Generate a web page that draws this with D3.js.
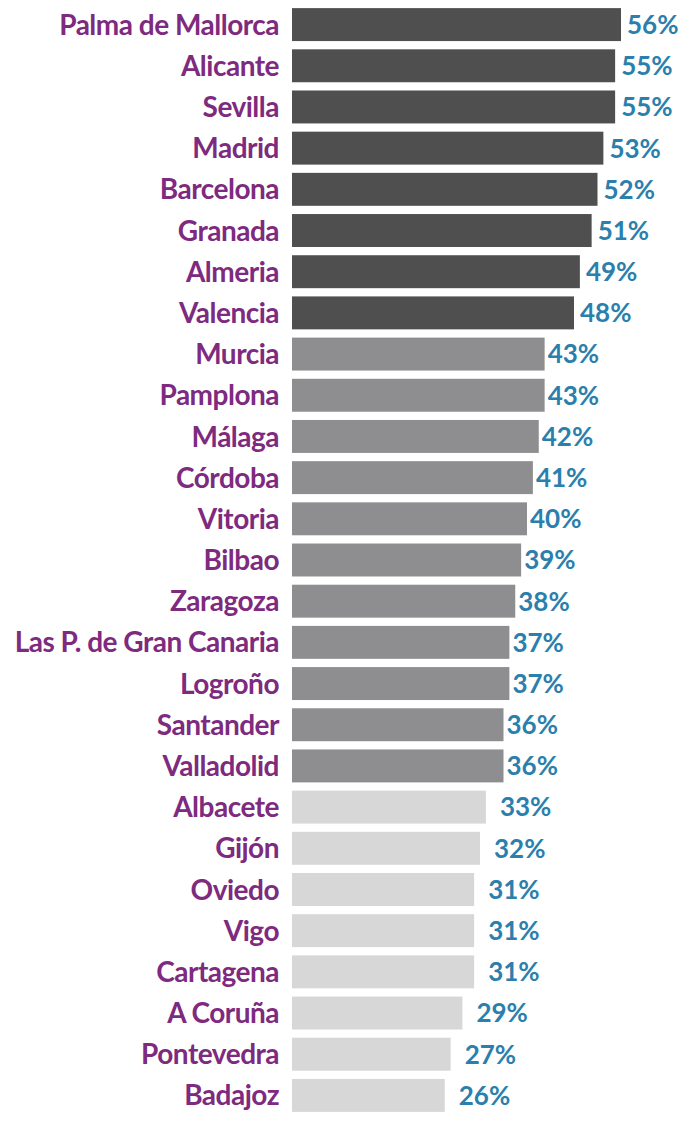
<!DOCTYPE html>
<html>
<head>
<meta charset="utf-8">
<script src="https://cdn.jsdelivr.net/npm/d3@7"></script>
<style>
  body { margin: 0; background: #fff; }
</style>
</head>
<body>
<div id="chart"></div>
<script>
// Data
var cities = ["Palma de Mallorca", "Alicante", "Sevilla", "Madrid", "Barcelona", "Granada",
  "Almeria", "Valencia", "Murcia", "Pamplona", "Málaga", "Córdoba", "Vitoria", "Bilbao",
  "Zaragoza", "Las P. de Gran Canaria", "Logroño", "Santander", "Valladolid", "Albacete",
  "Gijón", "Oviedo", "Vigo", "Cartagena", "A Coruña", "Pontevedra", "Badajoz"];
var values = [56, 55, 55, 53, 52, 51, 49, 48, 43, 43, 42, 41, 40, 39, 38, 37, 37, 36, 36,
  33, 32, 31, 31, 31, 29, 27, 26];
// tier of each bar: 0 dark, 1 medium, 2 light
var tiers = [0, 0, 0, 0, 0, 0, 0, 0, 1, 1, 1, 1, 1, 1, 1, 1, 1, 1, 1, 2, 2, 2, 2, 2, 2, 2, 2];

var width = 688;
var height = 1125;
var barColors = ["#4f4f4f", "#8e8e90", "#d7d7d7"];
var labelGap = [6, 3, 14];

var svg = d3.select("#chart").append("svg")
  .attr("width", width)
  .attr("height", height);

var x = d3.scaleLinear()
  .domain([0, 56])
  .range([292, 621]);

var y = d3.scaleBand()
  .domain(d3.range(cities.length))
  .range([4, 1116])
  .paddingInner(0.2)
  .paddingOuter(0.1);

var rows = svg.selectAll("g.row")
  .data(cities)
  .enter()
  .append("g")
  .attr("class", "row");

rows.append("rect")
  .attr("x", x(0))
  .attr("y", function(d, i) { return y(i); })
  .attr("width", function(d, i) { return x(values[i]) - x(0); })
  .attr("height", y.bandwidth())
  .attr("fill", function(d, i) { return barColors[tiers[i]]; });

rows.append("text")
  .attr("x", 279)
  .attr("y", function(d, i) { return y(i) + y.bandwidth() / 2; })
  .attr("dy", "0.36em")
  .attr("text-anchor", "end")
  .attr("font-family", "Lato, 'Open Sans', sans-serif")
  .attr("font-weight", "bold")
  .attr("font-size", 28)
  .attr("letter-spacing", -0.5)
  .attr("fill", "#7d2a7f")
  .text(function(d) { return d; });

rows.append("text")
  .attr("x", function(d, i) { return x(values[i]) + labelGap[tiers[i]]; })
  .attr("y", function(d, i) { return y(i) + y.bandwidth() / 2; })
  .attr("dy", "0.36em")
  .attr("font-family", "Lato, 'Open Sans', sans-serif")
  .attr("font-weight", "bold")
  .attr("font-size", 26)
  .attr("fill", "#2b7fad")
  .text(function(d, i) { return values[i] + "%"; });
</script>
</body>
</html>
